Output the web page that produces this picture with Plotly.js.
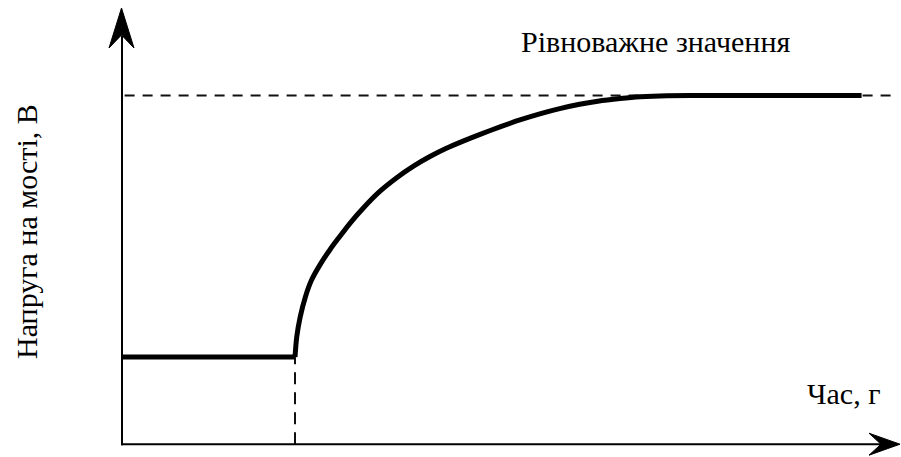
<!DOCTYPE html>
<html>
<head>
<meta charset="utf-8">
<script src="https://cdn.plot.ly/plotly-3.0.1.min.js"></script>
<style>html,body{margin:0;padding:0;background:#fff;}#chart{width:901px;height:457px;}</style>
</head>
<body>
<div id="chart"></div>
<script>
// ---- data (time units, voltage units) ----
const stepTime = 2.0;
const baseVoltage = 1.0;
const equilibriumVoltage = 4.0;
const flatTime = [0, 2.0];
const flatVoltage = [1.0, 1.0];
const curveTime = [2.0, 2.02, 2.06, 2.12, 2.19, 2.29, 2.41, 2.50, 2.64, 2.79, 2.98, 3.18, 3.37, 3.56, 3.75, 3.95, 4.14, 4.37, 4.60, 4.83, 5.06, 5.29, 5.50, 5.76, 5.99, 6.30, 6.68, 8.55];
const curveVoltage = [1.0, 1.23, 1.46, 1.69, 1.88, 2.06, 2.24, 2.36, 2.54, 2.71, 2.90, 3.06, 3.19, 3.30, 3.395, 3.48, 3.555, 3.64, 3.72, 3.79, 3.85, 3.90, 3.935, 3.965, 3.985, 3.998, 4.0, 4.0];
const dashStartTime = 0.03;
const dashEndTime = 8.97;
const xTitle = "Час, г";
const yTitle = "Напруга на мості, В";
const eqLabel = "Рівноважне значення";

// ---- layout constants ----
const W = 901, H = 457;
const ox = 122, oy = 444.2;         // origin pixel
const sx = 86.5, sy = 87.17;        // pixels per unit
const xr = [-ox / sx, (W - ox) / sx];
const yr = [(oy - H) / sy, oy / sy];
const dx = p => (p - ox) / sx;
const dy = p => (oy - p) / sy;
const P = (px, py) => dx(px) + ',' + dy(py);

const font = "Liberation Serif";

const traces = [
  { x: [dashStartTime, dashEndTime], y: [equilibriumVoltage, equilibriumVoltage], mode: 'lines',
    line: { color: '#111', width: 2, dash: '10px,8px' }, hoverinfo: 'skip' },
  { x: [stepTime, stepTime], y: [0, baseVoltage], mode: 'lines',
    line: { color: '#111', width: 2, dash: '12px,8px' }, hoverinfo: 'skip' },
  { x: flatTime, y: flatVoltage, mode: 'lines',
    line: { color: '#000', width: 5 }, hoverinfo: 'skip' },
  { x: curveTime, y: curveVoltage, mode: 'lines',
    line: { color: '#000', width: 5, shape: 'spline', smoothing: 0.8 }, hoverinfo: 'skip' }
];

const shapes = [
  { type: 'line', xref: 'x', yref: 'y', x0: 0, y0: dy(oy + 1), x1: 0, y1: dy(36), line: { color: '#000', width: 2 } },
  { type: 'line', xref: 'x', yref: 'y', x0: dx(121), y0: 0, x1: dx(882), y1: 0, line: { color: '#000', width: 2 } },
  { type: 'path', xref: 'x', yref: 'y', path: 'M' + P(121.5, 8) + ' L' + P(134, 48) + ' L' + P(121.5, 35) + ' L' + P(109, 48) + ' Z',
    fillcolor: '#000', line: { color: '#000', width: 1 } },
  { type: 'path', xref: 'x', yref: 'y', path: 'M' + P(900, oy) + ' L' + P(869, oy - 11) + ' L' + P(881, oy) + ' L' + P(869, oy + 11) + ' Z',
    fillcolor: '#000', line: { color: '#000', width: 1 } }
];

const annotations = [
  { text: eqLabel, xref: 'paper', yref: 'paper', x: 655 / W, y: 1 - 42 / H, xanchor: 'center', yanchor: 'middle',
    showarrow: false, font: { family: font, size: 30, color: '#000' } },
  { text: xTitle, xref: 'paper', yref: 'paper', x: 843 / W, y: 1 - 393 / H, xanchor: 'center', yanchor: 'middle',
    showarrow: false, font: { family: font, size: 30, color: '#000' } },
  { text: yTitle, xref: 'paper', yref: 'paper', x: 26 / W, y: 1 - 232 / H, xanchor: 'center', yanchor: 'middle',
    textangle: -90, showarrow: false, font: { family: font, size: 30, color: '#000' } }
];

const layout = {
  width: W, height: H,
  margin: { l: 0, r: 0, t: 0, b: 0 },
  paper_bgcolor: '#fff', plot_bgcolor: '#fff',
  showlegend: false,
  xaxis: { range: xr, visible: false, fixedrange: true },
  yaxis: { range: yr, visible: false, fixedrange: true },
  shapes: shapes,
  annotations: annotations
};

Plotly.newPlot('chart', traces, layout, { staticPlot: true, displayModeBar: false });
</script>
</body>
</html>
